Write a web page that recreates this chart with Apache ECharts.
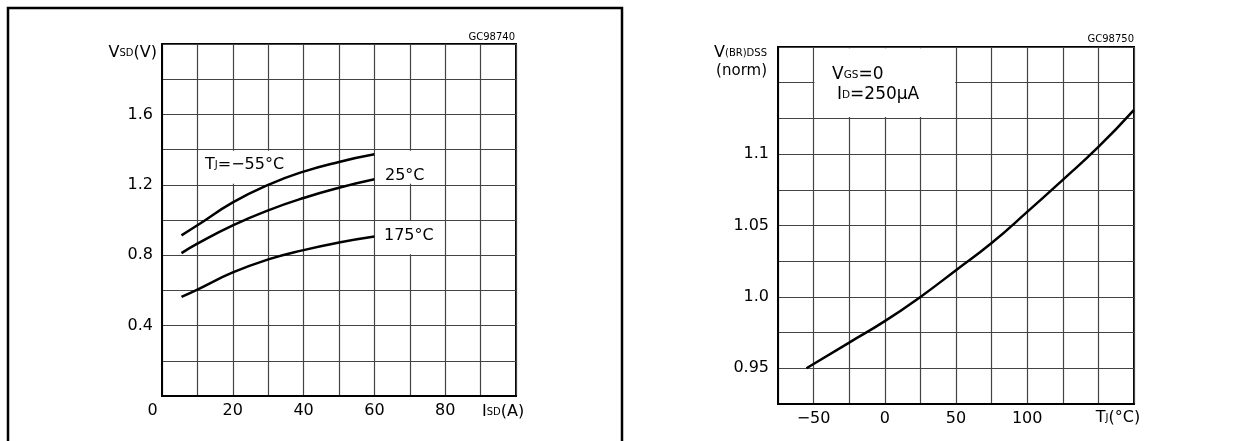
<!DOCTYPE html>
<html>
<head>
<meta charset="utf-8">
<script src="https://cdn.jsdelivr.net/npm/echarts@6/dist/echarts.min.js"></script>
<style>
html,body{margin:0;padding:0;background:#fff;}
#c{width:1236px;height:441px;}
</style>
</head>
<body>
<div id="c"></div>
<script>
// ---------- Data: left chart (source-drain diode forward characteristics) ----------
const isd      = [5.5, 10, 20, 30, 40, 50, 60];
const vsdM55   = [0.913, 0.970, 1.100, 1.200, 1.275, 1.330, 1.373];
const vsd25    = [0.812, 0.866, 0.970, 1.055, 1.125, 1.183, 1.231];
const vsd175   = [0.563, 0.605, 0.702, 0.776, 0.829, 0.872, 0.906];
const leftXTicks = [0, 20, 40, 60, 80];
const leftYTicks = [0.4, 0.8, 1.2, 1.6];
// label boxes that hide the grid behind the curve labels: [x0, y0, x1, y1]
const leftBoxes = [[10, 1.2, 40, 1.4], [60, 1.2, 80, 1.4], [60, 0.8, 80, 1.0]];

// ---------- Data: right chart (normalized breakdown voltage vs temperature) ----------
const tj   = [-55, -25, 0, 25, 50, 75, 100, 125, 150, 175];
const vbr  = [0.950, 0.968, 0.983, 1.000, 1.0187, 1.0377, 1.0595, 1.082, 1.105, 1.131];
const rightXTicks = [-50, 0, 50, 100];
const rightYTicks = ['0.95', '1.0', '1.05', '1.1'];
const rightBoxes = [[-50, 1.125, 50, 1.175]];

const FONT = 'DejaVu Sans';
const GRID_LINE = {color: '#444', width: 1.2};

function pairs(xs, ys){ return xs.map((x, i) => [x, ys[i]]); }
function boxes(list, ix, iy){
  return list.map(b => [{xAxis: b[0] + ix, yAxis: b[1] + iy}, {xAxis: b[2] - ix, yAxis: b[3] - iy}]);
}

const chart = echarts.init(document.getElementById('c'), null, {renderer: 'canvas'});

const axisCommon = {
  type: 'value',
  axisLine: {show: true, onZero: false, lineStyle: {color: '#000', width: 2}},
  axisTick: {show: false},
  splitLine: {show: true, lineStyle: GRID_LINE},
  showMinLabel: true,
  showMaxLabel: true
};
const lblCommon = {color: '#000', fontFamily: FONT, fontSize: 16};

const curveStyle = {color: '#000', width: 2.5};
function curve(data, xi){
  return {type: 'line', xAxisIndex: xi, yAxisIndex: xi, data: data, smooth: 0.5,
          showSymbol: false, symbol: 'none', lineStyle: curveStyle, z: 3, silent: true};
}

function t(text, x, y, align, vAlign, size, rich){
  const st = {text: text, fill: '#000', fontFamily: FONT, fontSize: size,
              textAlign: align, textVerticalAlign: vAlign};
  if (rich) st.rich = rich;
  return {type: 'text', x: x, y: y, style: st, z: 10, silent: true};
}
const big = s => ({fontFamily: FONT, fontSize: s, fill: '#000', verticalAlign: 'bottom'});
const small = s => ({fontFamily: FONT, fontSize: s, fill: '#000', verticalAlign: 'bottom', padding: [0, 0, 3, 0]});
const R16 = {a: big(16), s: small(10)};
const R17 = {a: big(17), s: small(10.5)};

const option = {
  animation: false,
  backgroundColor: '#fff',
  grid: [
    {left: 162, top: 44, width: 354, height: 352, show: true, borderColor: '#000', borderWidth: 2, backgroundColor: 'transparent'},
    {left: 778, top: 47, width: 356, height: 357, show: true, borderColor: '#000', borderWidth: 2, backgroundColor: 'transparent'}
  ],
  xAxis: [
    Object.assign({}, axisCommon, {
      gridIndex: 0, min: 0, max: 100, interval: 10,
      axisLabel: Object.assign({}, lblCommon, {
        margin: 7,
        formatter: v => {
          const r = Math.round(v);
          if (r === 0) return '{o|0}';
          return leftXTicks.indexOf(r) >= 0 ? String(r) : '';
        },
        rich: {o: {fontFamily: FONT, fontSize: 16, color: '#000', padding: [0, 19, 0, 0]}}
      })
    }),
    Object.assign({}, axisCommon, {
      gridIndex: 1, min: -75, max: 175, interval: 25,
      axisLabel: Object.assign({}, lblCommon, {
        margin: 7,
        formatter: v => {
          const r = Math.round(v);
          return rightXTicks.indexOf(r) >= 0 ? String(r).replace('-', '\u2212') : '';
        }
      })
    })
  ],
  yAxis: [
    Object.assign({}, axisCommon, {
      gridIndex: 0, min: 0, max: 2, interval: 0.2,
      axisLabel: Object.assign({}, lblCommon, {
        margin: 9,
        formatter: v => {
          const r = Math.round(v * 10) / 10;
          return leftYTicks.indexOf(r) >= 0 ? r.toFixed(1) : '';
        }
      })
    }),
    Object.assign({}, axisCommon, {
      gridIndex: 1, min: 0.925, max: 1.175, interval: 0.025,
      axisLabel: Object.assign({}, lblCommon, {
        margin: 9,
        formatter: v => {
          const r = Math.round(v * 1000) / 1000;
          const s = (Math.round(r * 100) % 10 === 0) ? r.toFixed(1) : r.toFixed(2);
          return rightYTicks.indexOf(s) >= 0 ? s : '';
        }
      })
    })
  ],
  series: [
    {type: 'line', xAxisIndex: 0, yAxisIndex: 0, data: [], z: 1, silent: true,
     markArea: {silent: true, itemStyle: {color: '#fff', borderWidth: 0}, label: {show: false},
                data: boxes(leftBoxes, 0.3, 0.006)}},
    curve(pairs(isd, vsdM55), 0),
    curve(pairs(isd, vsd25), 0),
    curve(pairs(isd, vsd175), 0),
    {type: 'line', xAxisIndex: 1, yAxisIndex: 1, data: [], z: 1, silent: true,
     markArea: {silent: true, itemStyle: {color: '#fff', borderWidth: 0}, label: {show: false},
                data: boxes(rightBoxes, 0.6, 0.0009)}},
    curve(pairs(tj, vbr), 1)
  ],
  graphic: [
    {type: 'polyline', shape: {points: [[8, 441], [8, 8], [622, 8], [622, 441]]},
     style: {stroke: '#000', lineWidth: 2.5, fill: null}, z: 20, silent: true},
    t('GC98740', 515, 37, 'right', 'middle', 10),
    t('GC98750', 1134, 39.5, 'right', 'middle', 10),
    t('{a|V}{s|SD}{a|(V)}', 157, 53, 'right', 'middle', 16, R16),
    t('{a|I}{s|SD}{a|(A)}', 482, 412, 'left', 'middle', 16, R16),
    t('{a|T}{s|J}{a|=\u221255\u00b0C}', 205, 165, 'left', 'middle', 16, R16),
    t('25\u00b0C', 385, 176, 'left', 'middle', 16),
    t('175\u00b0C', 384, 236, 'left', 'middle', 16),
    t('{a|V}{s|(BR)DSS}', 767, 53, 'right', 'middle', 16, R16),
    t('(norm)', 767, 71, 'right', 'middle', 15),
    t('{a|V}{s|GS}{a|=0}', 832, 75, 'left', 'middle', 17, R17),
    t('{a|I}{s|D}{a|=250\u00b5A}', 837, 95, 'left', 'middle', 17, R17),
    t('{a|T}{s|J}{a|(\u00b0C)}', 1118, 418, 'center', 'middle', 16, R16)
  ]
};
chart.setOption(option);
</script>
</body>
</html>
